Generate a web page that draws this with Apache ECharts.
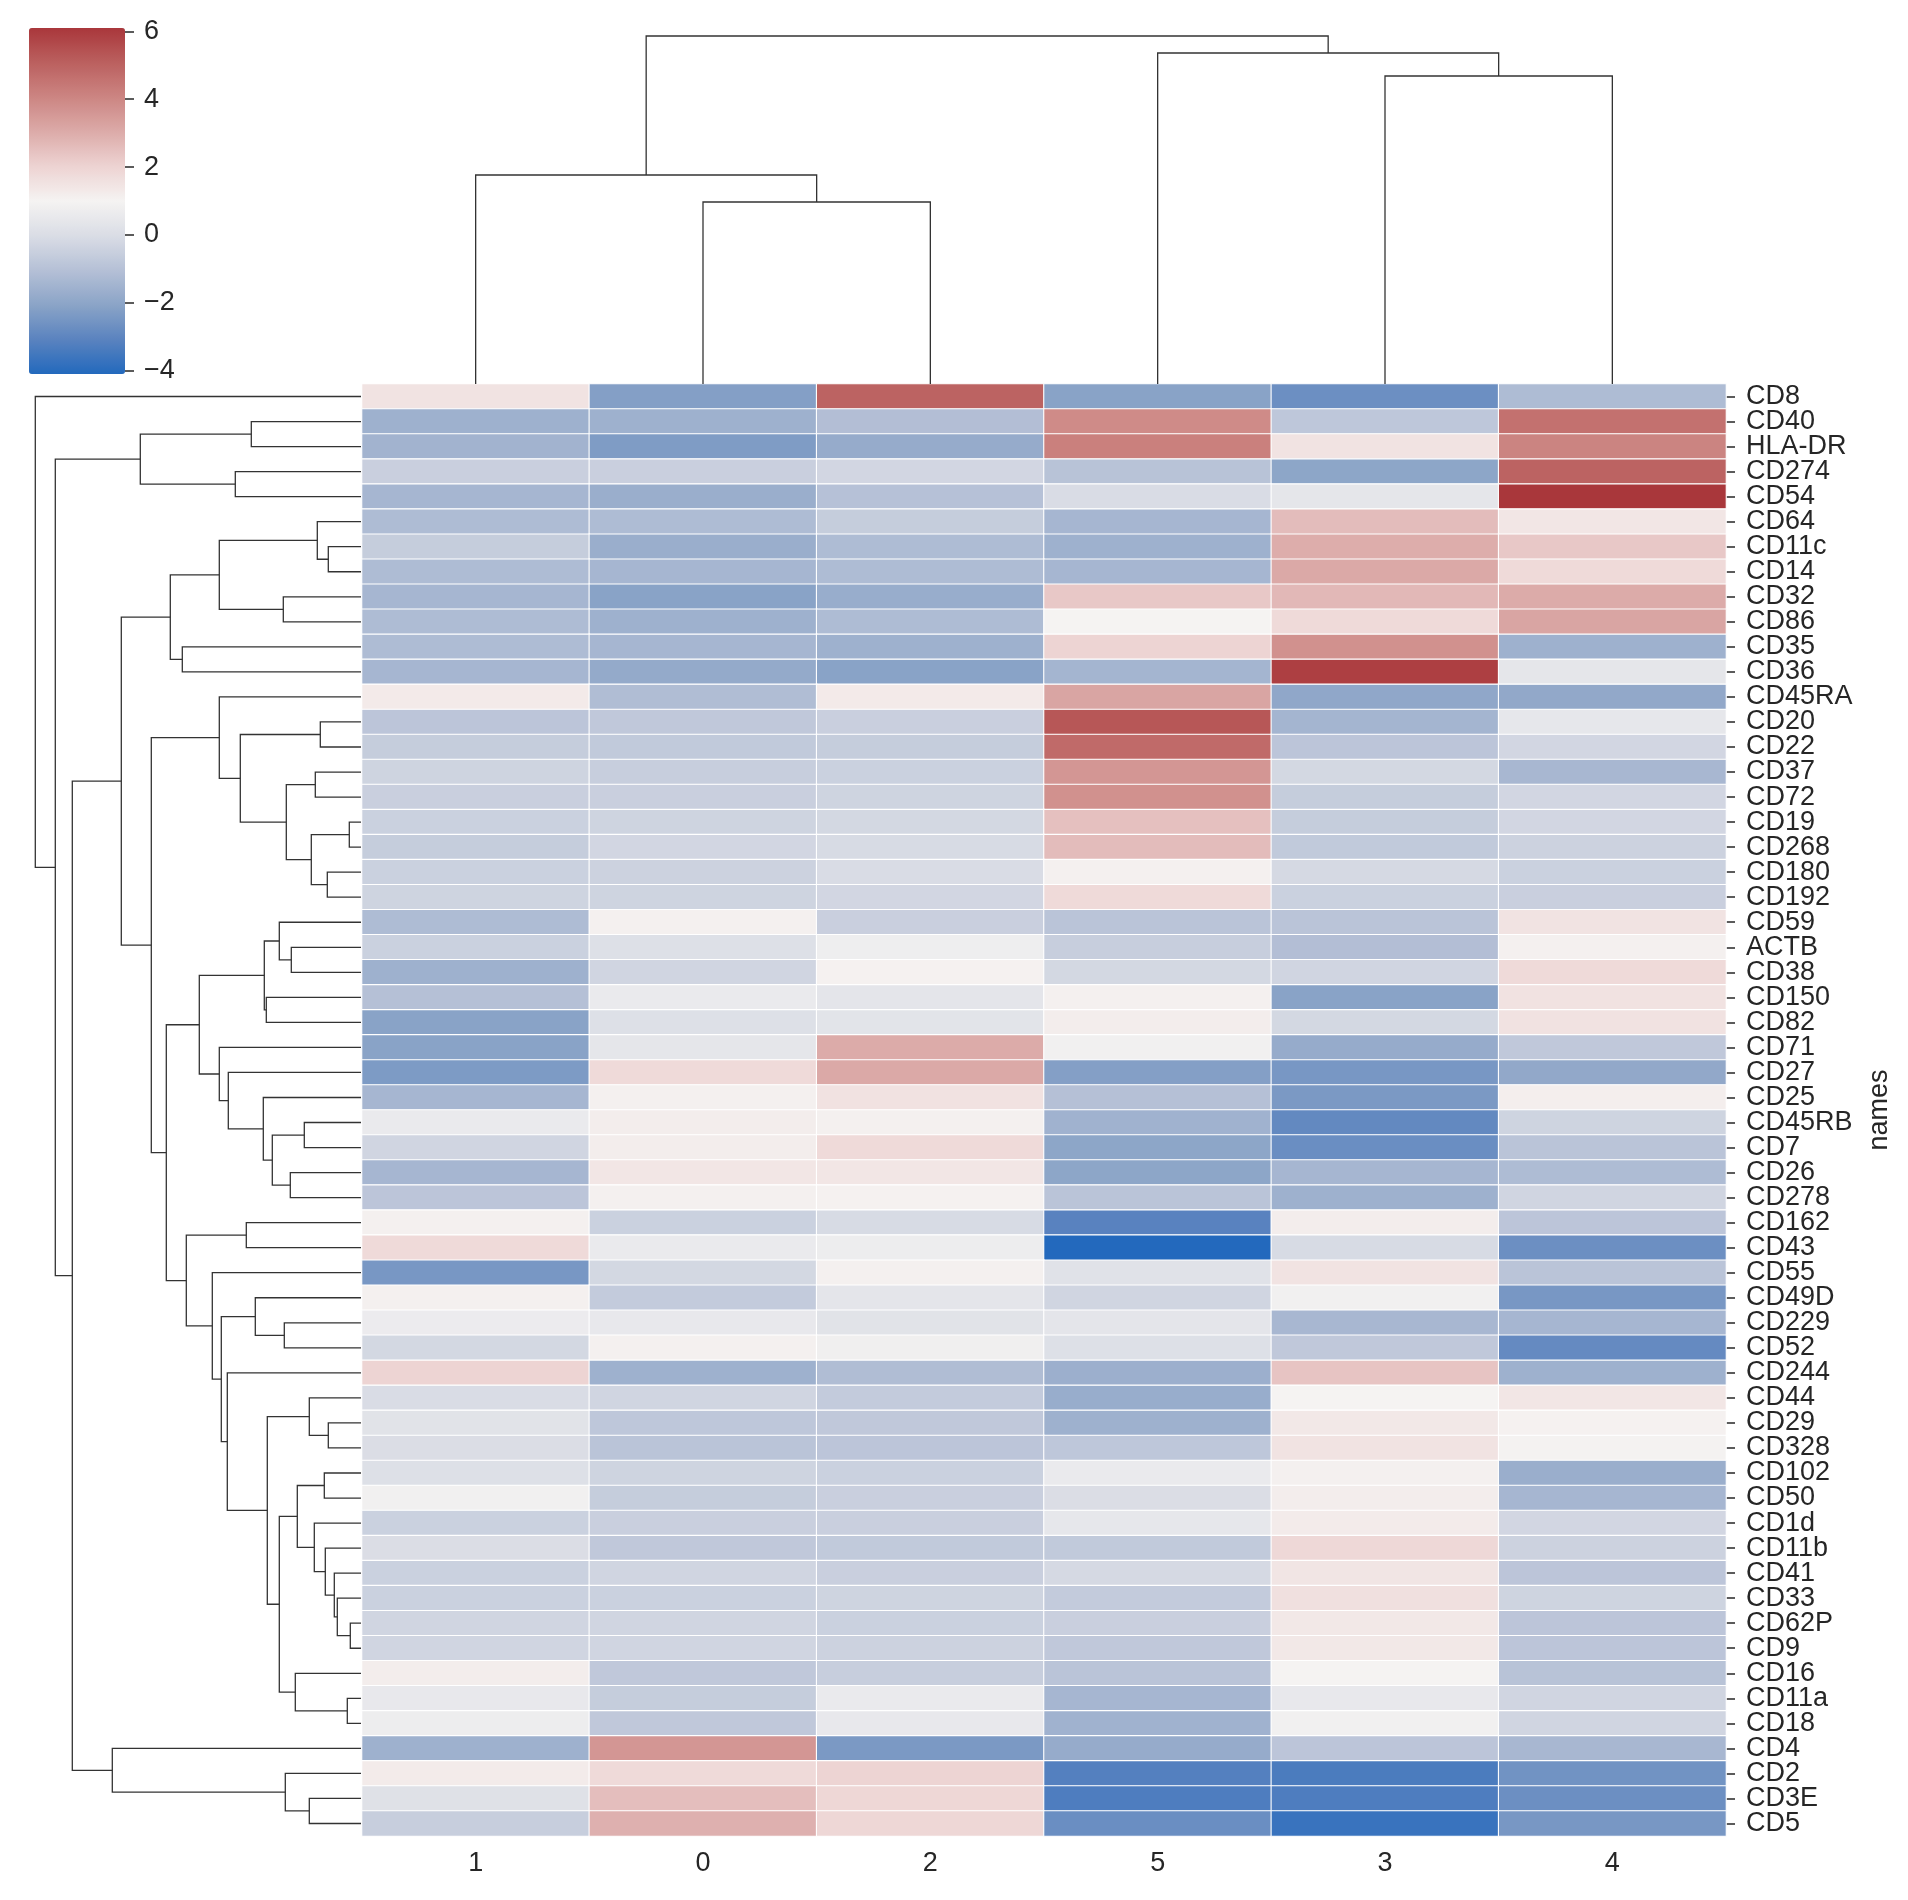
<!DOCTYPE html>
<html>
<head>
<meta charset="utf-8">
<title>clustermap</title>
<script src="https://cdn.jsdelivr.net/npm/echarts@6/dist/echarts.min.js"></script>
<style>
  html, body { margin: 0; padding: 0; background: #fff; }
  #chart { width: 1908px; height: 1900px; }
</style>
</head>
<body>
<div id="chart"></div>
<script>
// column order after clustering
var colLabels = ['1', '0', '2', '5', '3', '4']

// row order after clustering (top to bottom)
var rowLabels = ['CD8', 'CD40', 'HLA-DR', 'CD274', 'CD54', 'CD64', 'CD11c', 'CD14', 'CD32', 'CD86',
  'CD35', 'CD36', 'CD45RA', 'CD20', 'CD22', 'CD37', 'CD72', 'CD19', 'CD268', 'CD180',
  'CD192', 'CD59', 'ACTB', 'CD38', 'CD150', 'CD82', 'CD71', 'CD27', 'CD25', 'CD45RB',
  'CD7', 'CD26', 'CD278', 'CD162', 'CD43', 'CD55', 'CD49D', 'CD229', 'CD52', 'CD244',
  'CD44', 'CD29', 'CD328', 'CD102', 'CD50', 'CD1d', 'CD11b', 'CD41', 'CD33', 'CD62P',
  'CD9', 'CD16', 'CD11a', 'CD18', 'CD4', 'CD2', 'CD3E', 'CD5']

// one row per marker, columns in colLabels order
var values = [
  [1.5, -2.2, 5.0, -2.1, -2.7, -1.2],
  [-1.6, -1.6, -1.1, 3.9, -0.8, 4.6],
  [-1.5, -2.3, -1.8, 4.2, 1.5, 4.1],
  [-0.5, -0.5, -0.25, -0.95, -2.0, 5.0],
  [-1.4, -1.7, -1.0, -0.05, 0.4, 6.1],
  [-1.2, -1.2, -0.6, -1.4, 2.6, 1.4],
  [-0.6, -1.7, -1.2, -1.6, 3.0, 2.3],
  [-1.2, -1.4, -1.2, -1.4, 3.1, 1.8],
  [-1.4, -2.1, -1.75, 2.3, 2.7, 3.05],
  [-1.2, -1.6, -1.2, 1.0, 1.8, 3.2],
  [-1.2, -1.4, -1.6, 2.0, 3.75, -1.6],
  [-1.4, -1.85, -2.1, -1.45, 5.9, 0.4],
  [1.3, -1.15, 1.3, 3.2, -1.95, -1.9],
  [-0.85, -0.75, -0.5, 5.3, -1.45, 0.45],
  [-0.6, -0.7, -0.6, 4.8, -0.85, -0.25],
  [-0.35, -0.55, -0.45, 3.6, -0.2, -1.35],
  [-0.5, -0.5, -0.35, 3.75, -0.6, -0.25],
  [-0.45, -0.35, -0.2, 2.5, -0.6, -0.25],
  [-0.6, -0.25, -0.1, 2.6, -0.7, -0.4],
  [-0.45, -0.4, -0.05, 1.1, -0.15, -0.45],
  [-0.35, -0.35, -0.25, 1.8, -0.45, -0.5],
  [-1.2, 1.1, -0.5, -0.9, -0.9, 1.5],
  [-0.45, 0.1, 0.75, -0.55, -1.1, 1.1],
  [-1.6, -0.3, 1.05, -0.2, -0.3, 1.8],
  [-1.05, 0.6, 0.35, 1.1, -2.1, 1.55],
  [-2.1, 0.1, 0.3, 1.2, -0.2, 1.55],
  [-2.1, 0.4, 3.05, 0.85, -1.8, -0.75],
  [-2.35, 1.8, 3.1, -2.2, -2.45, -1.9],
  [-1.4, 1.1, 1.55, -1.05, -2.4, 1.15],
  [0.6, 1.2, 1.1, -1.55, -2.9, -0.35],
  [-0.3, 1.2, 1.8, -2.0, -2.75, -0.9],
  [-1.4, 1.4, 1.4, -2.0, -1.4, -1.2],
  [-0.85, 1.1, 1.05, -0.9, -1.6, -0.3],
  [1.1, -0.45, -0.1, -3.1, 1.2, -0.85],
  [1.8, 0.6, 0.7, -4.1, -0.1, -2.7],
  [-2.45, -0.2, 1.1, 0.2, 1.5, -0.9],
  [1.1, -0.65, 0.35, -0.3, 0.85, -2.45],
  [0.65, 0.5, 0.25, 0.35, -1.35, -1.4],
  [-0.2, 1.1, 0.8, 0.1, -0.75, -2.85],
  [2.0, -1.6, -1.15, -1.65, 2.4, -1.6],
  [-0.05, -0.3, -0.65, -1.75, 1.0, 1.4],
  [0.25, -0.8, -0.75, -1.6, 1.35, 1.05],
  [0.0, -0.9, -0.85, -0.8, 1.5, 0.95],
  [0.1, -0.35, -0.45, 0.6, 1.1, -1.7],
  [0.85, -0.6, -0.5, 0.0, 1.2, -1.4],
  [-0.45, -0.5, -0.5, 0.45, 1.25, -0.25],
  [0.0, -0.75, -0.7, -0.7, 1.85, -0.4],
  [-0.45, -0.3, -0.5, -0.15, 1.45, -0.85],
  [-0.45, -0.45, -0.35, -0.65, 1.6, -0.35],
  [-0.3, -0.3, -0.45, -0.5, 1.35, -0.85],
  [-0.3, -0.3, -0.4, -0.75, 1.35, -0.85],
  [1.2, -0.75, -0.55, -0.9, 1.0, -0.95],
  [0.5, -0.6, 0.6, -1.4, 0.5, -0.3],
  [0.7, -0.75, 0.5, -1.55, 0.85, -0.3],
  [-1.6, 3.6, -2.4, -1.8, -0.85, -1.35],
  [1.25, 1.8, 2.0, -3.2, -3.35, -2.6],
  [0.15, 2.55, 1.9, -3.3, -3.3, -2.7],
  [-0.55, 2.9, 1.9, -2.75, -3.7, -2.45]
]

// linkage like scipy: [a, b, height], ids < leaf count are leaves,
// later ids point at earlier merges (leafCount + merge index)
var rowLinkage = [
  [17, 18, 11.7], [49, 50, 10.7], [52, 53, 13.7], [48, 59, 23.7], [47, 61, 26.7],
  [6, 7, 32.7], [41, 42, 32.7], [19, 20, 33.7], [46, 62, 35.7], [43, 44, 36.7],
  [13, 14, 40.7], [5, 63, 43.7], [15, 16, 45.7], [45, 66, 46.7], [58, 65, 49.7],
  [40, 64, 51.7], [56, 57, 51.7], [29, 30, 56.7], [67, 71, 63.7], [51, 60, 65.7],
  [22, 23, 69.7], [31, 32, 70.7], [70, 72, 74.7], [55, 74, 75.7], [37, 38, 76.7],
  [8, 9, 77.7], [21, 78, 81.7], [76, 77, 81.7], [75, 79, 88.7], [73, 85, 93.7],
  [24, 25, 94.7], [84, 88, 96.7], [28, 86, 97.7], [36, 82, 105.7], [1, 2, 109.7],
  [33, 34, 114.7], [68, 80, 120.7], [3, 4, 125.7], [27, 90, 132.7], [39, 87, 133.7],
  [91, 97, 139.7], [69, 83, 141.7], [12, 94, 141.7], [26, 96, 141.7], [35, 98, 148.7],
  [89, 101, 161.7], [93, 102, 174.7], [10, 11, 178.7], [99, 105, 190.7], [103, 104, 194.7],
  [100, 107, 209.7], [92, 95, 220.7], [106, 108, 239.7], [54, 81, 248.7], [110, 111, 288.7],
  [109, 112, 305.7], [0, 113, 325.7]
]
var colLinkage = [[1, 2, 182], [0, 6, 209], [4, 5, 308], [3, 8, 331], [7, 9, 348]]

var tickMin = -4
var tickMax = 6
var tickStep = 2
var vmin = -4.1
var vmax = 6.1
var vlag = ['#2369bd', '#5a83bf', '#8ba4c7', '#b5c0d6', '#dadde5', '#f5f3f2',
  '#edd3d2', '#dcaba9', '#cc8582', '#bb605f', '#a9373b']

var font = '"Liberation Sans", Arial, Helvetica, sans-serif'
var ink = '#262626'
var labelSize = 27

// colour bar geometry; the tick axis covers only the -4..6 part of it
var barTop = 28
var barHeight = 346
var barPx = barHeight / (vmax - vmin)

// U shaped links, points are [leafPosition, height]
function dendrogramLinks(linkage, leafCount) {
  var pos = []
  var hgt = []
  for (var i = 0; i < leafCount; i++) {
    pos.push(i + 0.5)
    hgt.push(0)
  }
  var links = []
  linkage.forEach(function (m) {
    var a = m[0], b = m[1], h = m[2]
    links.push([[pos[a], hgt[a]], [pos[a], h], [pos[b], h], [pos[b], hgt[b]]])
    pos.push((pos[a] + pos[b]) / 2)
    hgt.push(h)
  })
  return links
}

var cells = []
values.forEach(function (row, r) {
  row.forEach(function (v, c) {
    cells.push([c, r, v])
  })
})

var rowLinks = dendrogramLinks(rowLinkage, rowLabels.length).map(function (l) {
  return { coords: l.map(function (p) { return [p[1], p[0]] }) }
})
var colLinks = dendrogramLinks(colLinkage, colLabels.length).map(function (l) {
  return { coords: l }
})

var linkStyle = { color: '#333333', width: 1.3, opacity: 1 }

var option = {
  animation: false,
  backgroundColor: '#ffffff',
  textStyle: { fontFamily: font },
  grid: [
    { left: 362, top: 384, width: 1364, height: 1452 },
    { left: 0, top: 384, width: 361, height: 1452 },
    { left: 362, top: 0, width: 1364, height: 384 },
    {
      left: 29, width: 96,
      top: barTop + (vmax - tickMax) * barPx,
      height: (tickMax - tickMin) * barPx
    }
  ],
  xAxis: [
    {
      gridIndex: 0, type: 'category', data: colLabels, position: 'bottom',
      axisLine: { show: false }, axisTick: { show: false }, splitLine: { show: false },
      axisLabel: { interval: 0, fontSize: labelSize, color: ink, margin: 14, lineHeight: 27 }
    },
    { gridIndex: 1, type: 'value', min: 0, max: 361, inverse: true, show: false },
    { gridIndex: 2, type: 'value', min: 0, max: 6, show: false },
    { gridIndex: 3, type: 'value', min: 0, max: 1, show: false }
  ],
  yAxis: [
    {
      gridIndex: 0, type: 'category', data: rowLabels, inverse: true, position: 'right',
      axisLine: { show: false }, splitLine: { show: false },
      axisTick: { show: true, alignWithLabel: true, interval: 0, length: 9, lineStyle: { color: ink, width: 1.5 } },
      axisLabel: { interval: 0, fontSize: labelSize, color: ink, margin: 20 },
      name: 'names', nameLocation: 'middle', nameRotate: 90, nameGap: 140,
      nameTextStyle: { fontSize: labelSize, color: ink }
    },
    { gridIndex: 1, type: 'value', min: 0, max: 58, inverse: true, show: false },
    { gridIndex: 2, type: 'value', min: 0, max: 384, show: false },
    {
      gridIndex: 3, type: 'value', min: tickMin, max: tickMax, interval: tickStep, position: 'right',
      axisLine: { show: false, onZero: false },
      splitLine: { show: false },
      axisTick: { show: true, inside: false, length: 9, lineStyle: { color: ink, width: 1.5 } },
      axisLabel: {
        show: true, fontSize: labelSize, color: ink, margin: 19,
        showMinLabel: true, showMaxLabel: true,
        formatter: function (v) { return v < 0 ? '\u2212' + Math.abs(v) : String(v) }
      },
      z: 10
    }
  ],
  visualMap: {
    type: 'continuous', min: vmin, max: vmax, seriesIndex: 0,
    calculable: false, show: true, left: 29, top: barTop, padding: 0,
    itemWidth: 96, itemHeight: barHeight, text: null, showLabel: false,
    inRange: { color: vlag }
  },
  series: [
    {
      type: 'heatmap', xAxisIndex: 0, yAxisIndex: 0, data: cells, silent: true,
      itemStyle: { borderColor: '#ffffff', borderWidth: 1.1 }
    },
    {
      type: 'lines', coordinateSystem: 'cartesian2d', xAxisIndex: 1, yAxisIndex: 1,
      polyline: true, silent: true, data: rowLinks, lineStyle: linkStyle
    },
    {
      type: 'lines', coordinateSystem: 'cartesian2d', xAxisIndex: 2, yAxisIndex: 2,
      polyline: true, silent: true, data: colLinks, lineStyle: linkStyle
    }
  ]
}

var chart = echarts.init(document.getElementById('chart'), null, { renderer: 'canvas' })
chart.setOption(option)
</script>
</body>
</html>
